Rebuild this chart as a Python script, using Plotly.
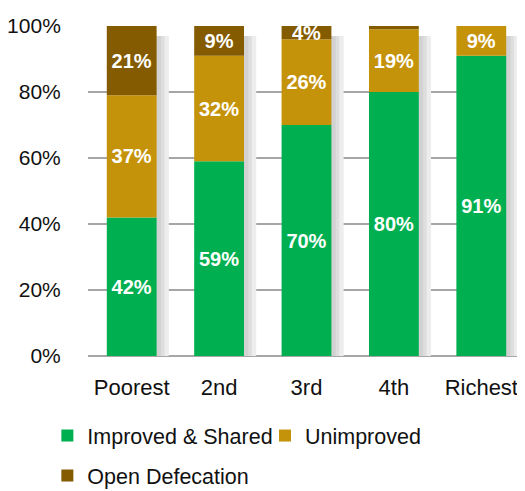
import numpy as np
import plotly.graph_objects as go

categories = ["Poorest", "2nd", "3rd", "4th", "Richest"]
improved = [42, 59, 70, 80, 91]
unimproved = [37, 32, 26, 19, 9]
open_def = [21, 9, 4, 1, 0]
y_ticks = [0, 20, 40, 60, 80, 100]
y_tick_labels = ["0%", "20%", "40%", "60%", "80%", "100%"]

series = [
    ("Improved & Shared", improved, "#00B050", "legend"),
    ("Unimproved", unimproved, "#C5930A", "legend3"),
    ("Open Defecation", open_def, "#845B00", "legend2"),
]

FONT = "Liberation Sans, Arial, sans-serif"
BAR_W = 0.57

fig = go.Figure()

# soft drop shadows behind bars
totals = np.sum([improved, unimproved, open_def], axis=0)
for w, col in [(0.15, "#EDEDED"), (0.10, "#DEDEDE"), (0.06, "#D2D2D2")]:
    fig.add_trace(go.Bar(
        x=categories, y=totals - 3, base=0, width=w,
        offset=BAR_W / 2 - 0.01, marker=dict(color=col, line=dict(width=0)),
        showlegend=False, hoverinfo="skip",
    ))

base = np.zeros(len(categories))
for name, vals, col, leg in series:
    vals = np.array(vals)
    text = [f"{v}%" if v >= 3 else "" for v in vals]
    fig.add_trace(go.Bar(
        name=name, x=categories, y=vals, base=base.copy(), width=BAR_W,
        offset=-BAR_W / 2, legend=leg,
        marker=dict(color=col, line=dict(width=0)),
        text=text, textposition="inside", insidetextanchor="middle",
        constraintext="none",
        textfont=dict(color="white", size=20, family=FONT, weight="bold"),
    ))
    base = base + vals

leg_common = dict(orientation="h", xanchor="left", yanchor="top",
                  font=dict(size=21.5, color="#111111"), traceorder="normal",
                  itemwidth=30, tracegroupgap=0, bgcolor="rgba(0,0,0,0)")

fig.update_layout(
    barmode="overlay",
    width=517, height=483,
    margin=dict(l=80, r=0, t=18, b=135, autoexpand=False),
    plot_bgcolor="white", paper_bgcolor="white",
    font=dict(family=FONT, size=22, color="#111111"),
    xaxis=dict(showgrid=False, showline=False, ticks="outside", ticklen=12,
               tickcolor="rgba(0,0,0,0)", tickfont=dict(size=22), range=[-0.5, 4.5]),
    yaxis=dict(range=[0, 100], tickvals=y_ticks, ticktext=y_tick_labels,
               showgrid=True, gridcolor="#A6A6A6", gridwidth=1.5,
               zeroline=True, zerolinecolor="#A6A6A6", zerolinewidth=1.5,
               ticks="outside", ticklen=22, tickcolor="rgba(0,0,0,0)",
               tickfont=dict(size=21)),
    legend=dict(x=-0.093, y=-0.179, **leg_common),
    legend3=dict(x=0.405, y=-0.179, **leg_common),
    legend2=dict(x=-0.093, y=-0.3, **leg_common),
    showlegend=True,
)

fig.write_html("out.html")
